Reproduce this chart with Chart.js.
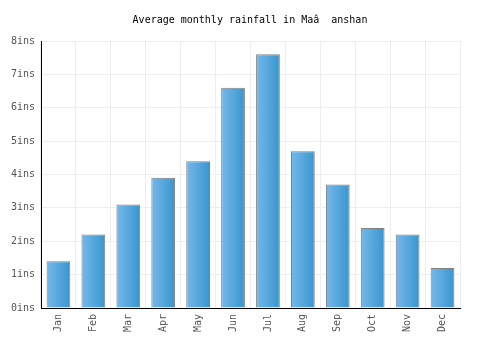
<!DOCTYPE html>
<html><head><meta charset="utf-8">
<script src="https://cdn.jsdelivr.net/npm/chart.js@4"></script>
<style>html,body{margin:0;padding:0;background:#fff}#wrap{width:500px;height:350px}</style>
</head><body><div id="wrap"><canvas id="c" width="500" height="350"></canvas></div>
<script>
const months = ["Jan","Feb","Mar","Apr","May","Jun","Jul","Aug","Sep","Oct","Nov","Dec"];
const rainfall = [1.4,2.2,3.1,3.9,4.4,6.6,7.6,4.7,3.7,2.4,2.2,1.2];
const yTicks = [0,1,2,3,4,5,6,7,8];
const titleText = "Average monthly rainfall in Maâ  anshan";

const FONT = "'DejaVu Sans Mono', monospace";
function barGradient(c) {
  const chart = c.chart;
  const el = chart.getDatasetMeta(c.datasetIndex).data[c.dataIndex];
  if (!el || !isFinite(el.x) || !el.width) return '#4fa5dc';
  const g = chart.ctx.createLinearGradient(el.x - el.width/2, 0, el.x + el.width/2, 0);
  g.addColorStop(0, '#76b8ea');
  g.addColorStop(1, '#3896cf');
  return g;
}
const gradPlugin = {
  id: 'grad',
  beforeDatasetsDraw(chart) {
    const meta = chart.getDatasetMeta(0);
    meta.data.forEach((el, i) => {
      el.options = Object.assign({}, el.options, { backgroundColor: barGradient({ chart, datasetIndex: 0, dataIndex: i }) });
    });
  }
};
const titlePlugin = {
  id: 'centerTitle',
  afterDraw(chart) {
    const ctx = chart.ctx;
    ctx.save();
    ctx.font = "10px " + FONT;
    ctx.fillStyle = '#000';
    ctx.textAlign = 'center';
    ctx.textBaseline = 'middle';
    ctx.fillText(titleText, chart.width / 2, 20);
    ctx.restore();
  }
};
new Chart(document.getElementById('c'), {
  type: 'bar',
  data: { labels: months, datasets: [{ data: rainfall, backgroundColor: barGradient, borderColor: '#808080', borderWidth: 1, barPercentage: 0.68, categoryPercentage: 1 }] },
  options: {
    responsive: false, animation: false,
    layout: { padding: { left: 0, right: 40, top: 41, bottom: 0 } },
    plugins: {
      legend: { display: false }, tooltip: { enabled: false },
      title: { display: false }
    },
    scales: {
      x: {
        grid: { color: '#eeeeee', offset: true, drawTicks: false },
        border: { color: '#000', width: 1 },
        ticks: { color: '#555', font: { family: FONT, size: 10 }, minRotation: 90, maxRotation: 90, padding: 6 },
        afterFit(s) { s.height = 42; }
      },
      y: {
        min: 0, max: 8,
        grid: { color: '#eeeeee', drawTicks: false },
        border: { color: '#000', width: 1 },
        afterBuildTicks(s) { s.ticks = yTicks.map(v => ({ value: v })); },
        ticks: { color: '#555', font: { family: FONT, size: 10 }, padding: 6, callback: v => v + 'ins' },
        afterFit(s) { s.width = 41; }
      }
    }
  },
  plugins: [gradPlugin, titlePlugin]
});
</script></body></html>
